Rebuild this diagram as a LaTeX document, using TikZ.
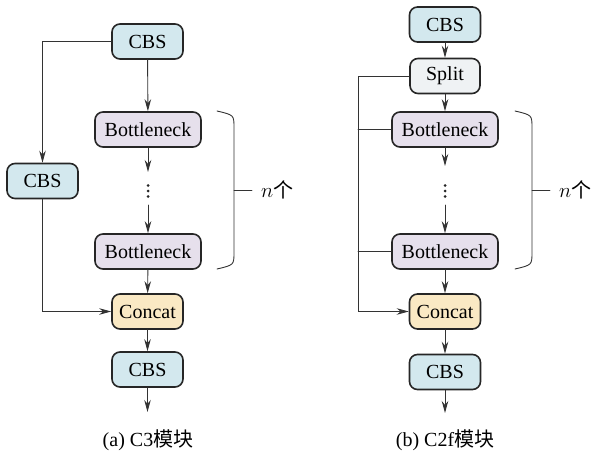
\documentclass[tikz,border=0pt]{standalone}
\usepackage{fontspec}
\setmainfont{Liberation Serif}
\newfontfamily\cjk{Noto Sans CJK SC}
\usetikzlibrary{arrows.meta}

\definecolor{CbsBlue}{HTML}{D3E8EE}
\definecolor{NeckLilac}{HTML}{E6E0EC}
\definecolor{CatSand}{HTML}{FAE9C4}
\definecolor{SplitGrey}{HTML}{EFF2F4}

\tikzset{C3Box/.style={draw=black!85,line width=1.6pt,rounded corners=8pt,
           minimum height=35pt,inner sep=0pt,font=\fontsize{20}{24}\selectfont},
         C3Cbs/.style={C3Box,fill=CbsBlue,minimum width=71pt},
         C3Neck/.style={C3Box,fill=NeckLilac,minimum width=106pt},
         C3Cat/.style={C3Box,fill=CatSand,minimum width=71pt},
         C3Split/.style={C3Box,fill=SplitGrey,minimum width=70pt},
         C3Line/.style={line width=.9pt,draw=black!80},
         C3Flow/.style={C3Line,-{Stealth[length=12pt,width=6.5pt]}}}

\begin{document}
\begin{tikzpicture}[x=1pt,y=-1pt,line cap=round,
  every node/.style={font=\fontsize{20}{24}\selectfont}]
  \useasboundingbox (0,0) rectangle (592,452);
  % (a) C3
  \node[C3Cbs]  (cbsA)    at (147.5,41.5)  {CBS};
  \node[C3Neck] (neckA1)  at (148,129.5)   {Bottleneck};
  \node[C3Cbs]  (cbsSide) at (42.5,181)    {CBS};
  \node[C3Neck] (neckA2)  at (148,251.5)   {Bottleneck};
  \node[C3Cat]  (catA)    at (147.5,311.5) {Concat};
  \node[C3Cbs]  (outA)    at (147.5,369.5) {CBS};
  \coordinate (gapA1) at (148,172);
  \coordinate (gapA2) at (148,205);
  \coordinate (endA)  at (147.5,412);
  \draw[C3Flow] (cbsA.west) -| (cbsSide.north);
  \draw[C3Flow] (cbsSide.south) |- (catA.west);
  \draw[C3Flow] (cbsA) -- (neckA1);
  \draw[C3Flow] (neckA1) -- (gapA1);
  \draw[C3Flow] (gapA2) -- (neckA2);
  \draw[C3Flow] (neckA2) -- (catA);
  \draw[C3Flow] (catA) -- (outA);
  \draw[C3Flow] (outA) -- (endA);
  \node (capA) at (148,440) {(a) C3{\cjk 模块}};
  % (b) C2f
  \node[C3Cbs]   (cbsB)   at (445,24.5)  {CBS};
  \node[C3Split] (splitB) at (445,76)    {Split};
  \node[C3Neck]  (neckB1) at (445,129.5) {Bottleneck};
  \node[C3Neck]  (neckB2) at (445,251.5) {Bottleneck};
  \node[C3Cat]   (catB)   at (445,311.5) {Concat};
  \node[C3Cbs]   (outB)   at (445,372)   {CBS};
  \coordinate (gapB1) at (445,166);
  \coordinate (gapB2) at (445,205);
  \coordinate (endB)  at (445,413);
  \coordinate (busB)  at (358,311.5);
  \draw[C3Flow] (cbsB) -- (splitB);
  \draw[C3Flow] (splitB) -- (neckB1);
  \draw[C3Flow] (neckB1) -- (gapB1);
  \draw[C3Flow] (gapB2) -- (neckB2);
  \draw[C3Flow] (neckB2) -- (catB);
  \draw[C3Flow] (catB) -- (outB);
  \draw[C3Flow] (outB) -- (endB);
  \draw[C3Flow] (splitB.west) -| (busB) -- (catB.west);
  \draw[C3Line] (neckB1.west) -- (neckB1.west -| busB);
  \draw[C3Line] (neckB2.west) -- (neckB2.west -| busB);
  \node (capB) at (445,440) {(b) C2f{\cjk 模块}};
  % vertical dots and braces, one per panel
  \foreach \x/\d in {217/148,515/445} {
    \foreach \y in {185.5,191,196.5}
      \fill[black!85] (\d,\y) circle (1.5);
    \draw[C3Line] (\x,111) .. controls (\x+17,115) .. (\x+17,128)
      -- (\x+17,252) .. controls (\x+17,265) .. (\x,269);
    \draw[C3Line] (\x+17,190) -- (\x+35,190);
    \node[anchor=west,inner sep=0pt] (count\x) at (\x+44,190) {$n${\cjk 个}};
  }
\end{tikzpicture}
\end{document}
